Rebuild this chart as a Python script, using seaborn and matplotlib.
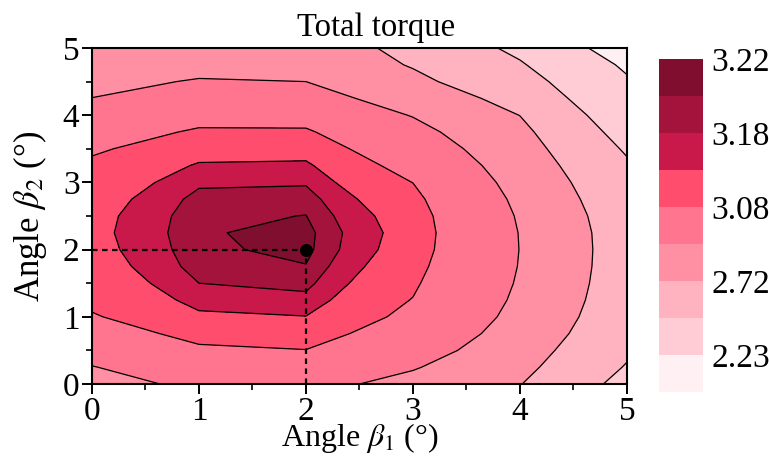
import numpy as np
import matplotlib
matplotlib.use("Agg")
import matplotlib.pyplot as plt
from matplotlib.ticker import MultipleLocator
import seaborn as sns

# Grid of the two blade angles
beta1 = [0, 1, 2, 3, 4, 5]
beta2 = [0.0, 0.25, 0.5, 0.75, 1.0, 1.25, 1.5, 1.75, 2.0, 2.25, 2.5,
         2.75, 3.0, 3.25, 3.5, 3.75, 4.0, 4.25, 4.5, 4.75, 5.0]

# Total torque along beta2 for each beta1 column
torque_b1_0 = [2.875, 2.905, 2.965, 3.025, 3.073, 3.098, 3.114, 3.126, 3.134, 3.1375, 3.135,
               3.127, 3.114, 3.096, 3.068, 3.030, 2.980, 2.912, 2.865, 2.815, 2.770]
torque_b1_1 = [2.930, 2.995, 3.062, 3.112, 3.142, 3.164, 3.180, 3.191, 3.1955, 3.1975, 3.1955,
               3.189, 3.175, 3.155, 3.128, 3.092, 3.045, 2.985, 2.922, 2.858, 2.795]
torque_b1_2 = [2.960, 3.025, 3.078, 3.118, 3.149, 3.172, 3.188, 3.199, 3.206, 3.207, 3.2005,
               3.192, 3.177, 3.158, 3.130, 3.092, 3.040, 2.975, 2.910, 2.845, 2.780]
torque_b1_3 = [2.860, 2.922, 2.980, 3.025, 3.058, 3.077, 3.094, 3.110, 3.123, 3.128, 3.122,
               3.105, 3.079, 3.047, 3.007, 2.960, 2.903, 2.835, 2.760, 2.708, 2.690]
torque_b1_4 = [2.726, 2.772, 2.812, 2.845, 2.870, 2.887, 2.898, 2.905, 2.908, 2.906, 2.898,
               2.883, 2.862, 2.835, 2.802, 2.765, 2.718, 2.655, 2.590, 2.520, 2.450]
torque_b1_5 = [2.436, 2.487, 2.530, 2.572, 2.598, 2.614, 2.624, 2.630, 2.632, 2.629, 2.617,
               2.594, 2.565, 2.525, 2.478, 2.425, 2.370, 2.310, 2.255, 2.195, 2.106]

# Contour levels and their fill colours
levels = [2.0, 2.23, 2.5, 2.72, 2.91, 3.08, 3.15, 3.18, 3.20, 3.22]
band_colors = ["#fff0f3", "#ffccd5", "#ffb3c1", "#ff8fa3", "#ff758f",
               "#ff4d6d", "#c9184a", "#a4133c", "#800f2f"]
cbar_ticks = [2.23, 2.72, 3.08, 3.18, 3.22]

# Optimum operating point
opt_beta1 = 2
opt_beta2 = 2

sns.set_theme(style="ticks")
plt.rcParams.update({
    "font.family": ["Liberation Serif", "DejaVu Serif"],
    "mathtext.fontset": "stix",
    "font.size": 23,
    "axes.edgecolor": "black",
    "axes.linewidth": 1.5,
    "xtick.color": "black",
    "ytick.color": "black",
    "text.color": "black",
    "axes.labelcolor": "black",
})

torque = np.column_stack([torque_b1_0, torque_b1_1, torque_b1_2,
                          torque_b1_3, torque_b1_4, torque_b1_5])

fig = plt.figure(figsize=(7.69, 4.61), dpi=100)
ax = fig.add_axes([0.1196, 0.167, 0.6957, 0.7289])
cax = fig.add_axes([0.857, 0.1497, 0.0572, 0.7223])

cf = ax.contourf(beta1, beta2, torque, levels=levels, colors=band_colors)
ax.contour(beta1, beta2, torque, levels=levels[1:-1], colors="black", linewidths=0.9)

# Dashed guides to the optimum and the optimum marker
ax.plot([beta1[0], opt_beta1], [opt_beta2, opt_beta2], color="black",
        linewidth=1.6, linestyle=(0, (2.5, 2)))
ax.plot([opt_beta1, opt_beta1], [beta2[0], opt_beta2], color="black",
        linewidth=1.6, linestyle=(0, (2.5, 2)))
sns.scatterplot(x=[opt_beta1], y=[opt_beta2], color="black", s=75,
                edgecolor="black", ax=ax, zorder=5, legend=False)

ax.set_xlim(0, 5)
ax.set_ylim(0, 5)
ax.xaxis.set_major_locator(MultipleLocator(1))
ax.yaxis.set_major_locator(MultipleLocator(1))
ax.xaxis.set_minor_locator(MultipleLocator(0.5))
ax.yaxis.set_minor_locator(MultipleLocator(0.5))
ax.tick_params(which="major", direction="out", length=7, width=1.4, labelsize=24, pad=2)
ax.tick_params(which="minor", direction="out", length=4, width=1.2)

ax.set_xlabel(r"Angle $\beta_1$ (°)", fontsize=23, labelpad=-4.5)
ax.set_ylabel(r"Angle $\beta_2$ (°)", fontsize=25)
ax.yaxis.set_label_coords(-0.08, 0.5)

fig.text(376 / 769, 1 - 36 / 461, "Total torque", ha="center", va="baseline", fontsize=23.5)

cbar = fig.colorbar(cf, cax=cax, ticks=cbar_ticks)
cbar.outline.set_visible(False)
cax.tick_params(length=0, labelsize=24, pad=6)
cax.set_yticklabels([f"{t:.2f}" for t in cbar_ticks])

fig.savefig("out.png", dpi=100)
